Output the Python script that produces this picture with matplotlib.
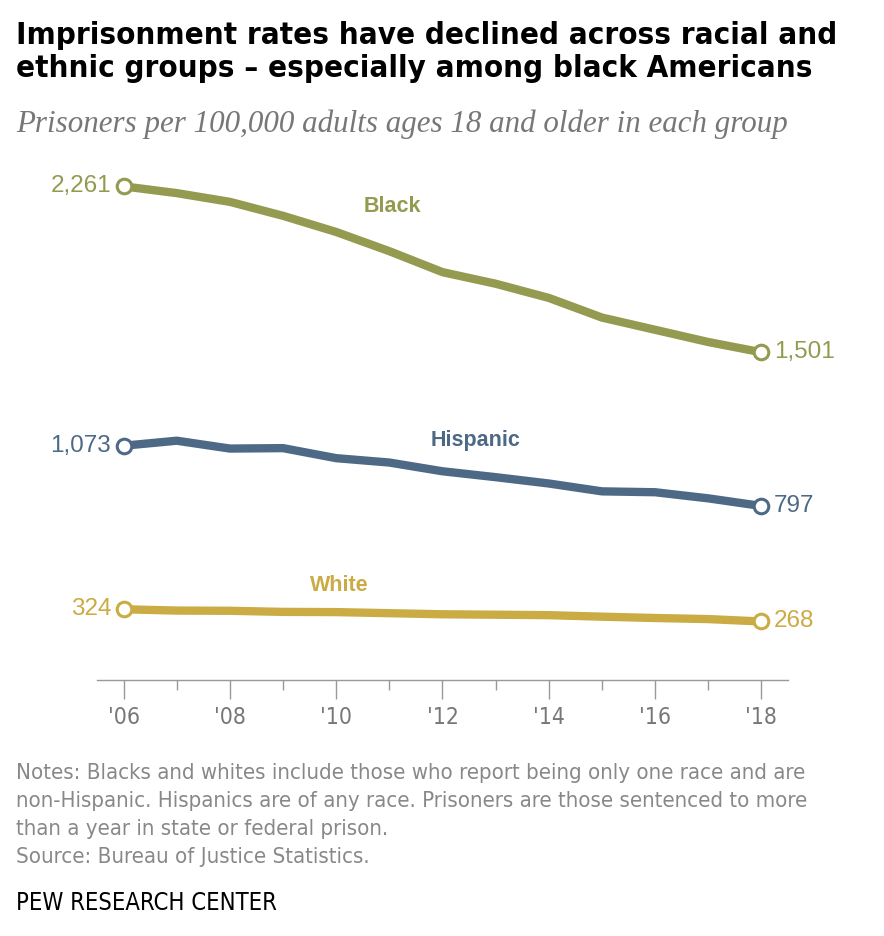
import matplotlib.pyplot as plt
from matplotlib.ticker import MultipleLocator

years = list(range(2006, 2019))
black = [2261, 2230, 2190, 2126, 2052, 1964, 1868, 1815, 1750, 1660, 1604, 1548, 1501]
hispanic = [1073, 1096, 1060, 1062, 1016, 996, 956, 929, 900, 864, 860, 832, 797]
white = [324, 318, 317, 312, 311, 306, 301, 299, 297, 290, 284, 279, 268]
tick_labels = ["'06", "'08", "'10", "'12", "'14", "'16", "'18"]

c_black = '#949a4f'
c_hisp = '#4e6985'
c_white = '#cbab44'

W, H = 884, 936
fig = plt.figure(figsize=(W / 100, H / 100), dpi=100)
ax = fig.add_axes([97 / W, 1 - 680 / H, (788 - 97) / W, (680 - 156) / H])

cond = dict(family='DejaVu Sans', fontstretch='condensed')

series = [(black, c_black), (hispanic, c_hisp), (white, c_white)]
for vals, col in series:
    ax.plot(years, vals, color=col, lw=6, solid_capstyle='round', solid_joinstyle='round', zorder=2)
    ax.plot([years[0], years[-1]], [vals[0], vals[-1]], 'o', ms=10.5, mfc='white', mec=col, mew=2.2, zorder=3)
    ax.annotate(f'{vals[0]:,}', (years[0], vals[0]), xytext=(-9, 0), textcoords='offset points',
                ha='right', va='center', color=col, fontsize=17.5, family='Liberation Sans')
    ax.annotate(f'{vals[-1]:,}', (years[-1], vals[-1]), xytext=(9, 0), textcoords='offset points',
                ha='left', va='center', color=col, fontsize=17.5, family='Liberation Sans')

ax.text(2011.05, 2170, 'Black', color=c_black, fontsize=15.5, fontweight='bold', ha='center', va='center',
        family='Liberation Sans')
ax.text(2012.62, 1098, 'Hispanic', color=c_hisp, fontsize=15.5, fontweight='bold', ha='center', va='center',
        family='Liberation Sans')
ax.text(2010.05, 435, 'White', color=c_white, fontsize=15.5, fontweight='bold', ha='center', va='center',
        family='Liberation Sans')

ax.set_xlim(2005.5, 2018.5)
ax.set_ylim(0, 2400)
ax.set_yticks([])
for s in ['top', 'right', 'left']:
    ax.spines[s].set_visible(False)
ax.spines['bottom'].set_color('#999999')
ax.spines['bottom'].set_linewidth(1)
ax.set_xticks(years[::2])
ax.set_xticklabels(tick_labels, fontsize=16.5, color='#777777', **cond)
ax.xaxis.set_minor_locator(MultipleLocator(1))
ax.tick_params(axis='x', which='major', length=14, width=1, color='#999999', pad=5)
ax.tick_params(axis='x', which='minor', length=7, width=1, color='#999999')

fig.text(16 / W, 1 - 52 / H, 'Imprisonment rates have declined across racial and\nethnic groups \u2013 especially among black Americans',
         ha='left', va='center', fontsize=22.4, fontweight='bold', linespacing=1.2, color='black', **cond)
fig.text(16 / W, 1 - 124 / H, 'Prisoners per 100,000 adults ages 18 and older in each group',
         ha='left', va='center', fontsize=22.3, style='italic', family='Liberation Serif', color='#777777')
fig.text(16 / W, 1 - 815 / H, 'Notes: Blacks and whites include those who report being only one race and are\n'
         'non-Hispanic. Hispanics are of any race. Prisoners are those sentenced to more\n'
         'than a year in state or federal prison.\nSource: Bureau of Justice Statistics.',
         ha='left', va='center', fontsize=15.9, color='#888888', linespacing=1.5, **cond)
fig.text(16 / W, 1 - 903 / H, 'PEW RESEARCH CENTER', ha='left', va='center', fontsize=17,
         color='black', **cond)

fig.savefig('out.png', dpi=100)
